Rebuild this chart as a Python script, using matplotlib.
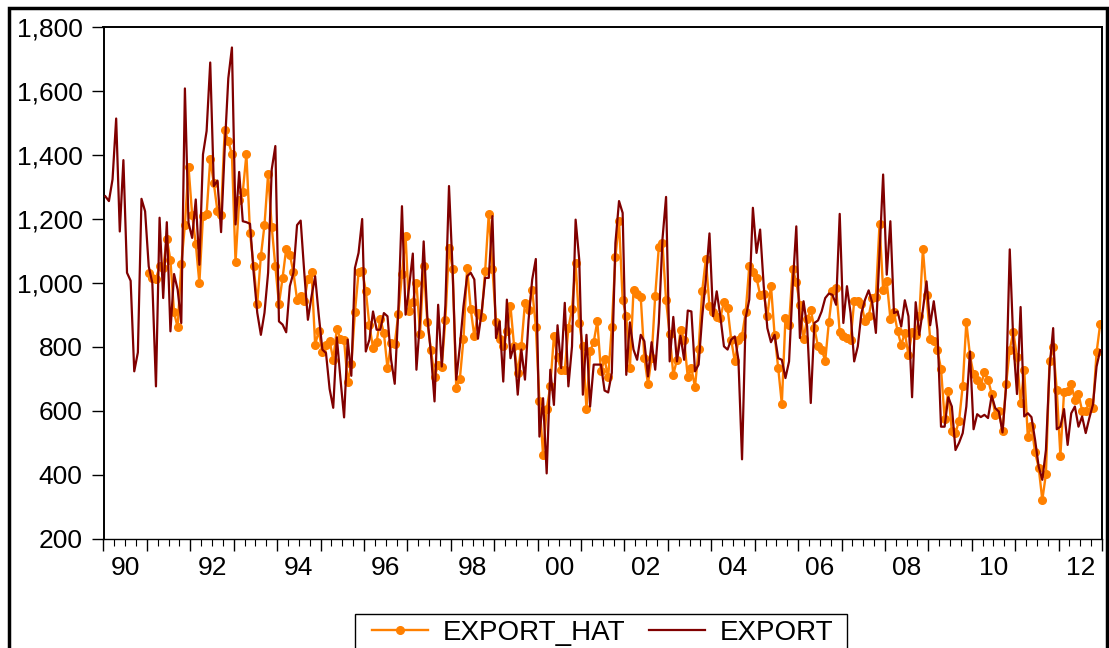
import matplotlib
matplotlib.use("Agg")
import matplotlib.pyplot as plt
import matplotlib.ticker as mticker
import matplotlib.transforms as mtransforms
from matplotlib.lines import Line2D
from matplotlib.patches import Rectangle
import numpy as np

plt.rcParams["font.family"] = ["Liberation Sans", "DejaVu Sans"]

# Monthly series, 1990M01 - 2012M12
start_year = 1990
end_year = 2013

export = [
    1271, 1256, 1324, 1514, 1161, 1384, 1032, 1007, 724, 783, 1263, 1224,     # 1990
    1052, 1000, 677, 1204, 953, 1190, 849, 1028, 979, 875, 1608, 1188,        # 1991
    1141, 1261, 1057, 1402, 1475, 1689, 1303, 1320, 1159, 1420, 1640, 1736,   # 1992
    1183, 1347, 1193, 1190, 1185, 1032, 907, 838, 907, 1032, 1355, 1428,      # 1993
    880, 870, 846, 990, 1032, 1181, 1195, 1032, 885, 958, 1021, 900,          # 1994
    792, 781, 669, 610, 830, 700, 580, 823, 710, 1047, 1094, 1200,            # 1995
    786, 823, 911, 854, 854, 906, 896, 760, 685, 917, 1240, 901,              # 1996
    990, 1092, 729, 885, 1130, 896, 781, 630, 932, 739, 930, 1303,            # 1997
    1040, 698, 802, 927, 1021, 1032, 1011, 826, 906, 1016, 1016, 1209,        # 1998
    828, 880, 692, 948, 765, 807, 651, 792, 698, 885, 1011, 1075,             # 1999
    520, 640, 405, 729, 619, 868, 734, 938, 677, 802, 1198, 1073,             # 2000
    651, 838, 614, 745, 745, 745, 664, 658, 719, 1125, 1256, 1219,            # 2001
    713, 877, 792, 760, 838, 818, 708, 815, 729, 875, 1136, 1269,             # 2002
    755, 894, 755, 835, 760, 914, 911, 724, 745, 896, 1011, 1155,             # 2003
    896, 974, 896, 802, 792, 823, 833, 760, 449, 891, 948, 1235,              # 2004
    1094, 1167, 990, 859, 815, 838, 765, 760, 703, 755, 990, 1177,            # 2005
    828, 943, 864, 625, 875, 883, 911, 953, 967, 963, 932, 1216,              # 2006
    875, 990, 906, 755, 802, 906, 948, 977, 938, 844, 1094, 1339,             # 2007
    1026, 1193, 906, 911, 864, 946, 896, 643, 940, 838, 917, 1005,            # 2008
    868, 943, 854, 551, 551, 643, 614, 478, 501, 531, 614, 786,               # 2009
    543, 590, 581, 588, 578, 648, 609, 598, 533, 677, 1105, 812,              # 2010
    653, 925, 583, 593, 581, 510, 426, 385, 478, 734, 859, 543,               # 2011
    551, 606, 494, 593, 614, 551, 583, 531, 578, 620, 739, 790,               # 2012
]

# Fitted values start in 1991M01
hat_start = 12
export_hat = [
    1032, 1016, 1013, 1052, 1047, 1139, 1071, 908, 861, 1058, 1181, 1363,     # 1991
    1214, 1123, 1000, 1209, 1217, 1386, 1311, 1224, 1214, 1477, 1444, 1402,   # 1992
    1065, 1258, 1285, 1402, 1157, 1052, 935, 1084, 1181, 1341, 1176, 1052,    # 1993
    935, 1016, 1107, 1089, 1033, 948, 960, 943, 1013, 1035, 807, 850,         # 1994
    784, 807, 820, 760, 856, 826, 821, 690, 747, 909, 1033, 1039,             # 1995
    976, 868, 797, 816, 888, 844, 734, 812, 809, 904, 1028, 1146,             # 1996
    911, 940, 1000, 842, 1052, 878, 792, 706, 745, 739, 885, 1110,            # 1997
    1045, 673, 700, 825, 1047, 919, 833, 906, 894, 1039, 1217, 1045,          # 1998
    878, 825, 802, 849, 927, 802, 719, 802, 938, 917, 979, 864,               # 1999
    630, 463, 606, 677, 835, 768, 727, 727, 859, 919, 1061, 875,              # 2000
    802, 606, 786, 816, 880, 724, 762, 705, 863, 1080, 1193, 946,             # 2001
    898, 734, 977, 967, 956, 767, 684, 767, 960, 1113, 1125, 946,             # 2002
    840, 713, 760, 854, 823, 705, 734, 675, 794, 976, 1075, 927,              # 2003
    908, 894, 891, 940, 922, 823, 755, 823, 835, 908, 1052, 1033,             # 2004
    1016, 963, 967, 896, 992, 838, 734, 622, 891, 870, 1045, 1003,            # 2005
    932, 825, 888, 915, 859, 802, 792, 757, 878, 974, 985, 847,               # 2006
    835, 828, 821, 943, 945, 935, 880, 896, 953, 956, 1183, 979,              # 2007
    1005, 889, 909, 849, 807, 844, 776, 847, 838, 896, 1107, 961,             # 2008
    826, 818, 790, 732, 576, 661, 536, 531, 570, 679, 878, 774,               # 2009
    715, 698, 679, 722, 698, 654, 588, 600, 536, 684, 792, 847,               # 2010
    768, 625, 729, 518, 554, 471, 423, 322, 403, 757, 799, 666,               # 2011
    460, 658, 661, 684, 635, 653, 601, 601, 628, 610, 783, 872,               # 2012
]

y_ticks = [200, 400, 600, 800, 1000, 1200, 1400, 1600, 1800]

ORANGE = "#ff8000"
MAROON = "#800000"

W, H = 1109, 648
fig = plt.figure(figsize=(W / 100, H / 100), dpi=100)
ax = fig.add_axes([103.5 / W, (H - 539) / H, (1102 - 103.5) / W, 512 / H])

# month midpoints in fractional years
t = start_year + (np.arange(len(export)) + 0.5) / 12
t_hat = t[hat_start:hat_start + len(export_hat)]

ax.plot(t_hat, export_hat, color=ORANGE, lw=1.7, marker="o", ms=5.5,
        mec=ORANGE, mfc=ORANGE, zorder=2)
ax.plot(t, export, color=MAROON, lw=1.6, zorder=3)

ax.set_xlim(start_year, end_year)
ax.set_ylim(y_ticks[0], y_ticks[-1])
ax.set_yticks(y_ticks)
ax.yaxis.set_major_formatter(mticker.FuncFormatter(lambda v, _: f"{v:,.0f}"))
ax.tick_params(axis="y", direction="out", length=8.5, width=1.0, pad=6.5,
               labelsize=19, colors="black")

# yearly major ticks, quarterly minor ticks, labels every other year
ax.xaxis.set_major_locator(mticker.MultipleLocator(1))
ax.xaxis.set_minor_locator(mticker.MultipleLocator(0.25))
ax.xaxis.set_major_formatter(mticker.NullFormatter())
ax.tick_params(axis="x", which="major", direction="out", length=8.5, width=1.0)
ax.tick_params(axis="x", which="minor", direction="out", length=5, width=0.8)

trans = mtransforms.blended_transform_factory(ax.transData, ax.transAxes)
for yr in range(start_year, end_year, 2):
    ax.text(yr + 0.5, -0.033, f"{yr % 100:02d}", transform=trans,
            ha="center", va="top", fontsize=19)

for side in ["left", "top", "right"]:
    ax.spines[side].set_linewidth(1.4)
ax.spines["bottom"].set_linewidth(1.0)

# legend entries without their own frame; the box is drawn separately
handles = [
    Line2D([], [], color=ORANGE, lw=1.7, marker="o", ms=5.5),
    Line2D([], [], color=MAROON, lw=1.6),
]
fig.legend(handles, ["EXPORT_HAT", "EXPORT"], loc="upper center",
           bbox_to_anchor=(603 / W, 1 - 614 / H), ncol=2, fontsize=20,
           frameon=False, borderpad=0.2, handlelength=2.0, handletextpad=0.55,
           columnspacing=0.85, borderaxespad=0, numpoints=1)
fig.patches.append(Rectangle((354.5 / W, -0.1), (847 - 354.5) / W, 0.1 + 1 - 614.5 / H,
                             transform=fig.transFigure, fill=False,
                             edgecolor="black", lw=1.0))

# outer frame around the whole graph
fig.patches.append(Rectangle((9 / W, -0.1), (1106.5 - 9) / W, 1 - 8.5 / H + 0.1,
                             transform=fig.transFigure, fill=False,
                             edgecolor="black", lw=2.5))

fig.savefig("out.png", dpi=100)
